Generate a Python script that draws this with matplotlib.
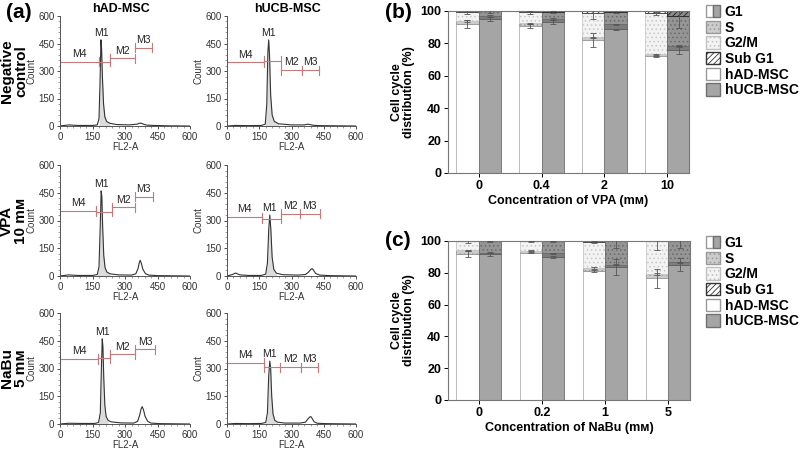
import numpy as np
import matplotlib.pyplot as plt
from matplotlib.patches import Patch
from matplotlib.legend_handler import HandlerTuple

plt.rcParams['font.family'] = ['Liberation Sans', 'DejaVu Sans']
plt.rcParams['hatch.linewidth'] = 0.6

# ---- panel (a): FL2-A histograms (x = FL2-A, y = count)
neg_ad_x = [0, 40, 80, 150, 172, 180, 185, 189, 192, 196, 201, 207, 215, 230, 260, 320, 355, 370, 378, 388, 400, 430, 500, 600]
neg_ad_y = [0, 6, 3, 3, 6, 40, 250, 470, 420, 260, 120, 50, 25, 15, 8, 6, 10, 16, 14, 9, 5, 3, 1, 0]
neg_ucb_x = [0, 40, 100, 160, 178, 185, 190, 194, 198, 203, 210, 220, 240, 300, 360, 375, 385, 400, 430, 600]
neg_ucb_y = [0, 3, 2, 3, 10, 120, 400, 470, 380, 170, 60, 25, 12, 6, 6, 10, 8, 4, 2, 0]
vpa_ad_x = [0, 40, 80, 150, 172, 180, 186, 190, 193, 197, 202, 208, 216, 230, 270, 330, 350, 360, 366, 370, 375, 383, 395, 410, 450, 600]
vpa_ad_y = [0, 6, 3, 3, 8, 50, 280, 460, 430, 260, 110, 45, 22, 12, 6, 5, 12, 40, 72, 85, 70, 35, 12, 5, 2, 0]
vpa_ucb_x = [0, 25, 40, 60, 100, 160, 180, 188, 194, 199, 204, 210, 218, 230, 260, 330, 365, 380, 390, 396, 402, 412, 430, 480, 600]
vpa_ucb_y = [0, 8, 16, 6, 3, 3, 10, 70, 250, 330, 250, 100, 35, 15, 7, 5, 8, 22, 36, 40, 32, 14, 5, 2, 0]
nabu_ad_x = [0, 40, 100, 160, 178, 186, 191, 195, 198, 202, 207, 213, 222, 235, 280, 340, 358, 367, 374, 379, 385, 393, 405, 420, 460, 600]
nabu_ad_y = [0, 4, 3, 3, 8, 60, 300, 460, 420, 250, 100, 40, 20, 12, 6, 5, 14, 45, 80, 94, 78, 40, 14, 5, 2, 0]
nabu_ucb_x = [0, 40, 100, 160, 180, 188, 194, 199, 203, 208, 214, 222, 235, 270, 340, 365, 377, 385, 390, 396, 405, 420, 460, 600]
nabu_ucb_y = [0, 3, 2, 3, 8, 60, 260, 340, 300, 150, 55, 20, 10, 5, 5, 10, 28, 38, 40, 30, 12, 4, 2, 0]

# gates: name -> (start, end, level)
gate_names = ['M4', 'M1', 'M2', 'M3']
neg_ad_gates = [(0, 180, 351), (180, 231, 351), (231, 346, 369), (346, 423, 427)]
neg_ucb_gates = [(0, 173, 347), (173, 252, 355), (252, 348, 305), (348, 430, 305)]
vpa_ad_gates = [(0, 166, 353), (166, 239, 348), (239, 344, 371), (344, 429, 429)]
vpa_ucb_gates = [(0, 165, 318), (165, 249, 310), (249, 338, 337), (338, 431, 337)]
nabu_ad_gates = [(0, 175, 352), (175, 233, 356), (233, 346, 376), (346, 440, 403)]
nabu_ucb_gates = [(0, 170, 331), (170, 247, 307), (247, 343, 307), (343, 425, 307)]

row_labels = ['Negative\ncontrol', 'VPA\n10 m\u1d0d', 'NaBu\n5 m\u1d0d']
col_labels = ['hAD-MSC', 'hUCB-MSC']

# ---- panels (b), (c): cell cycle distribution (%), stacked G1, S, G2/M, Sub G1
vpa_conc = ['0', '0.4', '2', '10']
vpa_ad_g1 = [92.0, 90.7, 82.0, 72.0]
vpa_ad_s = [2.0, 1.7, 1.7, 1.2]
vpa_ad_g2m = [5.5, 6.8, 14.8, 25.3]
vpa_ad_sub = [0.5, 0.8, 1.5, 1.5]
vpa_ucb_g1 = [95.0, 93.0, 88.7, 76.0]
vpa_ucb_s = [2.0, 2.0, 3.0, 2.5]
vpa_ucb_g2m = [2.7, 4.5, 7.8, 18.5]
vpa_ucb_sub = [0.3, 0.5, 0.5, 3.0]
vpa_ad_err = [[2.2, 1.3, 4.5, 0.4], [0.5, 0.5, 0.5, 0.3], [1.5, 0.8, 3.5, 1.0]]
vpa_ucb_err = [[1.2, 1.2, 0.4, 2.5], [0.5, 0.5, 0.5, 0.5], [1.0, 0.5, 1.0, 7.5]]

nabu_conc = ['0', '0.2', '1', '5']
nabu_ad_g1 = [92.0, 92.7, 81.0, 76.5]
nabu_ad_s = [2.3, 1.3, 2.2, 2.7]
nabu_ad_g2m = [5.5, 5.8, 16.3, 20.6]
nabu_ad_sub = [0.2, 0.2, 0.5, 0.2]
nabu_ucb_g1 = [91.6, 89.7, 83.6, 85.0]
nabu_ucb_s = [1.1, 2.5, 1.4, 1.5]
nabu_ucb_g2m = [7.1, 7.6, 14.7, 13.3]
nabu_ucb_sub = [0.2, 0.2, 0.3, 0.2]
nabu_ad_err = [[1.8, 0.5, 0.5, 6.0], [0.3, 0.3, 0.5, 0.5], [0.8, 0.4, 0.5, 5.5]]
nabu_ucb_err = [[0.8, 0.6, 5.0, 4.0], [0.3, 0.3, 0.3, 0.3], [0.3, 0.3, 4.0, 4.5]]

W, H = 800, 450
fig = plt.figure(figsize=(W / 100, H / 100), dpi=100)


def px_axes(l, t, r, b):
    return fig.add_axes([l / W, 1 - b / H, (r - l) / W, (b - t) / H])


def draw_hist(ax, xs, ys, gates):
    xs, ys = np.asarray(xs, float), np.asarray(ys, float)
    m1 = gates[1]
    sel = (xs >= m1[0]) & (xs <= m1[1])
    ax.fill_between(xs[sel], ys[sel], color='#dcdcdc', lw=0)
    ax.plot(xs, ys, color='#333333', lw=0.8)
    gate_col = '#c47a7a'
    for name, (a, b, lev) in zip(gate_names, gates):
        ax.plot([a, b], [lev, lev], color=gate_col, lw=0.8)
        for e in (a, b):
            ax.plot([e, e], [lev - 25, lev + 25], color=gate_col, lw=0.8)
        if name == 'M1':
            ty = max(ys.max(), lev) + 12
            tx = xs[np.argmax(ys)]
        else:
            ty = lev + 15
            tx = (a + b) / 2
        ax.text(tx, ty, name, fontsize=7.5, ha='center', va='bottom', color='#222222')
    ax.set_xlim(0, 600)
    ax.set_ylim(0, 600)
    ax.set_xticks(np.arange(0, 601, 150))
    ax.set_yticks(np.arange(0, 601, 150))
    ax.set_xticks(np.arange(0, 601, 30), minor=True)
    ax.set_yticks(np.arange(0, 601, 30), minor=True)
    for s in ('top', 'right'):
        ax.spines[s].set_visible(False)
    for s in ('left', 'bottom'):
        ax.spines[s].set_color('#555555')
        ax.spines[s].set_linewidth(0.7)
    ax.tick_params(labelsize=7, length=2.5, width=0.6, pad=1.5, colors='#333333')
    ax.tick_params(which='minor', length=1.3, width=0.5, colors='#777777')
    ax.set_xlabel('FL2-A', fontsize=7, labelpad=0, color='#333333')
    ax.set_ylabel('Count', fontsize=7, labelpad=1, color='#333333')


hist_data = [
    [(neg_ad_x, neg_ad_y, neg_ad_gates), (neg_ucb_x, neg_ucb_y, neg_ucb_gates)],
    [(vpa_ad_x, vpa_ad_y, vpa_ad_gates), (vpa_ucb_x, vpa_ucb_y, vpa_ucb_gates)],
    [(nabu_ad_x, nabu_ad_y, nabu_ad_gates), (nabu_ucb_x, nabu_ucb_y, nabu_ucb_gates)],
]
row_px = [(16, 126), (165, 276), (313, 424)]
col_px = [(60, 190), (227, 356)]
for r, (t, b) in enumerate(row_px):
    for c, (l, rr) in enumerate(col_px):
        ax = px_axes(l, t, rr, b)
        draw_hist(ax, *hist_data[r][c])
    fig.text(14 / W, 1 - (t + b) / 2 / H, row_labels[r], rotation=90, ha='center', va='center',
             fontsize=11, fontweight='bold', linespacing=1.0)
for c, (l, rr) in enumerate(col_px):
    fig.text((l + rr) / 2 / W - 0.005, 1 - 9 / H, col_labels[c], ha='center', va='center',
             fontsize=9, fontweight='bold')

# ---- stacked bars
ad_style = [dict(color='white', edgecolor='#b0b0b0', hatch=None),
            dict(color='#cccccc', edgecolor='#999999', hatch='....'),
            dict(color='#f3f3f3', edgecolor='#c8c8c8', hatch='....'),
            dict(color='white', edgecolor='#333333', hatch='//////')]
ucb_style = [dict(color='#a5a5a5', edgecolor='#707070', hatch=None),
             dict(color='#7d7d7d', edgecolor='#606060', hatch=None),
             dict(color='#959595', edgecolor='#6a6a6a', hatch='....'),
             dict(color='#8a8a8a', edgecolor='#222222', hatch='//////')]


def draw_cycle(ax, conc, ad, ucb, ad_err, ucb_err, xlabel):
    xs = np.arange(len(conc))
    w = 0.354
    for off, phases, errs, styles in ((-w / 2, ad, ad_err, ad_style), (w / 2, ucb, ucb_err, ucb_style)):
        bottom = np.zeros(len(conc))
        for i, vals in enumerate(phases):
            vals = np.asarray(vals, float)
            ax.bar(xs + off, vals, w, bottom=bottom, lw=0.6, zorder=2, **styles[i])
            top = bottom + vals
            if i < 3:
                ax.errorbar(xs + off, top, yerr=errs[i], fmt='none', ecolor='#555555',
                            elinewidth=0.6, capsize=2, capthick=0.6, zorder=3)
            bottom = top
    ax.set_xlim(-0.486, 3.343)
    ax.set_ylim(0, 100)
    ax.set_xticks(xs)
    ax.set_xticklabels(conc)
    ax.set_yticks(np.arange(0, 101, 20))
    for s in ax.spines.values():
        s.set_color('#777777')
        s.set_linewidth(0.8)
    ax.tick_params(labelsize=9, length=3, width=0.7, pad=2)
    for lab in ax.get_xticklabels() + ax.get_yticklabels():
        lab.set_fontweight('bold')
    ax.set_xlabel(xlabel, fontsize=9, fontweight='bold', labelpad=2)
    ax.set_ylabel('Cell cycle\ndistribution (%)', fontsize=9, fontweight='bold', labelpad=4,
                  linespacing=1.0)


def add_legend(ax, top_px):
    handles = [
        (Patch(facecolor='white', edgecolor='#999999'), Patch(facecolor='#a5a5a5', edgecolor='#707070')),
        Patch(facecolor='#cccccc', edgecolor='#999999', hatch='....'),
        Patch(facecolor='#f3f3f3', edgecolor='#c0c0c0', hatch='....'),
        Patch(facecolor='white', edgecolor='#333333', hatch='//////'),
        Patch(facecolor='white', edgecolor='#999999'),
        Patch(facecolor='#a5a5a5', edgecolor='#707070'),
    ]
    labels = ['G1', 'S', 'G2/M', 'Sub G1', 'hAD-MSC', 'hUCB-MSC']
    ax.legend(handles, labels, loc='upper left', bbox_to_anchor=(706 / W, 1 - top_px / H),
              bbox_transform=fig.transFigure, frameon=False, borderaxespad=0, borderpad=0,
              handlelength=1.0, handleheight=1.0, handletextpad=0.35, labelspacing=0.12,
              prop=dict(weight='bold', size=10),
              handler_map={tuple: HandlerTuple(ndivide=None, pad=0)})


ax_b = px_axes(448, 11, 689, 173)
draw_cycle(ax_b, vpa_conc, [vpa_ad_g1, vpa_ad_s, vpa_ad_g2m, vpa_ad_sub],
           [vpa_ucb_g1, vpa_ucb_s, vpa_ucb_g2m, vpa_ucb_sub], vpa_ad_err, vpa_ucb_err,
           'Concentration of VPA (m\u1d0d)')
add_legend(ax_b, 5)

ax_c = px_axes(448, 241, 690, 400)
draw_cycle(ax_c, nabu_conc, [nabu_ad_g1, nabu_ad_s, nabu_ad_g2m, nabu_ad_sub],
           [nabu_ucb_g1, nabu_ucb_s, nabu_ucb_g2m, nabu_ucb_sub], nabu_ad_err, nabu_ucb_err,
           'Concentration of NaBu (m\u1d0d)')
add_legend(ax_c, 236)

# panel letters
fig.text(6 / W, 1 - 12 / H, '(a)', fontsize=15, fontweight='bold', va='center')
fig.text(385 / W, 1 - 12 / H, '(b)', fontsize=15, fontweight='bold', va='center')
fig.text(385 / W, 1 - 240 / H, '(c)', fontsize=15, fontweight='bold', va='center')

fig.savefig('out.png', dpi=100)
